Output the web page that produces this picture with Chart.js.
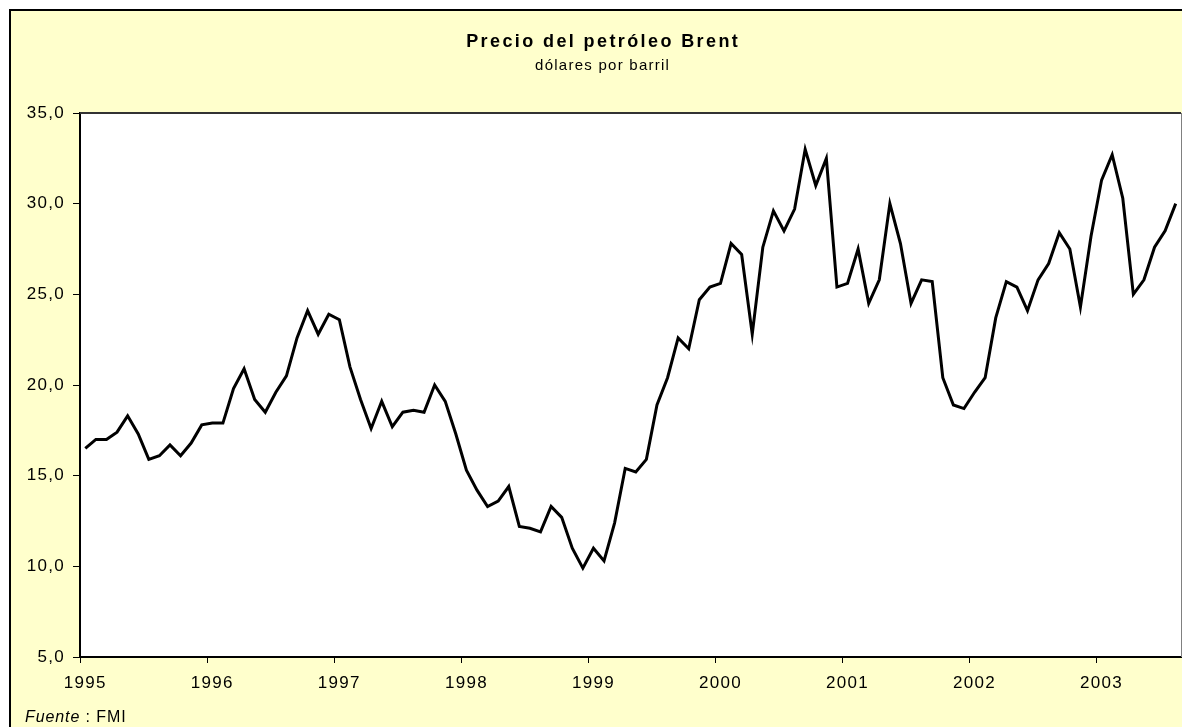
<!DOCTYPE html>
<html>
<head>
<meta charset="utf-8">
<script src="https://cdn.jsdelivr.net/npm/chart.js@4.4.0/dist/chart.umd.min.js"></script>
<style>
  html, body { margin: 0; padding: 0; background: #fff; }
  canvas { display: block; }
</style>
</head>
<body>
<canvas id="brent" width="1182" height="727"></canvas>
<script>
const START_YEAR = 1995;
const yTicks = [5, 10, 15, 20, 25, 30, 35];

// monthly Brent, USD per barrel, Jan 1995 - Aug 2003
const brent = [
  16.5, 17.0, 17.0, 17.4, 18.3, 17.3, 15.9, 16.1, 16.7, 16.1, 16.8, 17.8,
  17.9, 17.9, 19.8, 20.9, 19.2, 18.5, 19.6, 20.5, 22.6, 24.1, 22.8, 23.9,
  23.6, 21.0, 19.2, 17.6, 19.1, 17.7, 18.5, 18.6, 18.5, 20.0, 19.1, 17.3,
  15.3, 14.2, 13.3, 13.6, 14.4, 12.2, 12.1, 11.9, 13.3, 12.7, 11.0, 9.9,
  11.0, 10.3, 12.4, 15.4, 15.2, 15.9, 18.9, 20.4, 22.6, 22.0, 24.7, 25.4,
  25.6, 27.8, 27.2, 22.8, 27.6, 29.6, 28.5, 29.7, 33.0, 31.0, 32.5, 25.4,
  25.6, 27.5, 24.5, 25.8, 30.0, 27.8, 24.5, 25.8, 25.7, 20.4, 18.9, 18.7,
  19.6, 20.4, 23.7, 25.7, 25.4, 24.1, 25.8, 26.7, 28.4, 27.5, 24.3, 28.2,
  31.3, 32.7, 30.3, 25.0, 25.8, 27.6, 28.5, 30.0
];

const months = brent.map((_, i) =>
  `${START_YEAR + Math.floor(i / 12)}-${String(i % 12 + 1).padStart(2, "0")}`);

const FONT = '"Liberation Sans", Arial, sans-serif';

function drawSpaced(ctx, text, x, y, font, spacing, align) {
  ctx.font = font;
  ctx.letterSpacing = spacing + "px";
  const w = ctx.measureText(text).width - spacing;
  const left = align === "center" ? x - w / 2 : x;
  ctx.textAlign = "left";
  ctx.fillText(text, left, y);
  return left + w + spacing;
}

const frame = {
  id: "frame",
  beforeDraw(chart) {
    const { ctx, chartArea: a, width, height } = chart;
    ctx.save();
    ctx.fillStyle = "#fff";
    ctx.fillRect(0, 0, width, height);
    ctx.fillStyle = "#ffffcc";
    ctx.fillRect(9, 9, width - 9, height - 9);
    ctx.strokeStyle = "#000";
    ctx.lineWidth = 2;
    ctx.beginPath();
    ctx.moveTo(10, height);
    ctx.lineTo(10, 10);
    ctx.lineTo(width, 10);
    ctx.stroke();
    ctx.fillStyle = "#fff";
    ctx.fillRect(a.left, a.top, a.right - a.left, a.bottom - a.top);
    ctx.restore();
    ctx.letterSpacing = "1.3px";
  },
  afterDraw(chart) {
    const { ctx, chartArea: a } = chart;
    ctx.save();
    // plot frame, top and right
    ctx.strokeStyle = "#333";
    ctx.lineWidth = 2;
    ctx.beginPath();
    ctx.moveTo(a.left, a.top);
    ctx.lineTo(a.right, a.top);
    ctx.stroke();
    ctx.strokeStyle = "#808080";
    ctx.lineWidth = 1;
    ctx.beginPath();
    ctx.moveTo(a.right + 0.5, a.top);
    ctx.lineTo(a.right + 0.5, a.bottom);
    ctx.stroke();

    ctx.fillStyle = "#000";
    ctx.textBaseline = "alphabetic";
    drawSpaced(ctx, "Precio del petróleo Brent", 602, 47, "bold 18px " + FONT, 2.4, "center");
    drawSpaced(ctx, "dólares por barril", 602, 70, "15px " + FONT, 1.25, "center");
    const x = drawSpaced(ctx, "Fuente", 25, 722, "italic 16px " + FONT, 0.9, "left");
    drawSpaced(ctx, " : FMI", x, 722, "16px " + FONT, 0.9, "left");
    ctx.restore();
  }
};

new Chart(document.getElementById("brent"), {
  type: "line",
  data: {
    labels: months,
    datasets: [{
      data: brent,
      borderColor: "#000",
      borderWidth: 3,
      borderJoinStyle: "miter",
      pointRadius: 0,
      tension: 0,
      fill: false,
    }],
  },
  options: {
    responsive: false,
    devicePixelRatio: 1,
    animation: false,
    layout: { padding: { left: 9, top: 113, right: 1, bottom: 30 } },
    plugins: { legend: { display: false }, tooltip: { enabled: false } },
    scales: {
      x: {
        type: "category",
        offset: true,
        afterFit(scale) {
          scale.height = 40;
          scale.paddingLeft = 0;
          scale.paddingRight = 0;
        },
        border: { color: "#000", width: 2 },
        grid: {
          offset: true,
          drawOnChartArea: false,
          drawTicks: true,
          tickLength: 6,
          lineWidth: 1,
          color: (c) => (c.index % 12 === 0 ? "#000" : "rgba(0,0,0,0)"),
        },
        ticks: {
          autoSkip: false,
          maxRotation: 0,
          minRotation: 0,
          padding: 10,
          color: "#000",
          font: { family: FONT, size: 17 },
          callback(value, index) {
            const m = months[index];
            return m.endsWith("-01") ? m.slice(0, 4) : "";
          },
        },
      },
      y: {
        min: yTicks[0],
        max: yTicks[yTicks.length - 1],
        afterFit(scale) { scale.width = 71; },
        afterBuildTicks(scale) { scale.ticks = yTicks.map((v) => ({ value: v })); },
        border: { color: "#000", width: 2 },
        grid: {
          drawOnChartArea: false,
          drawTicks: true,
          tickLength: 7,
          lineWidth: 1,
          color: "#000",
        },
        ticks: {
          padding: 8,
          color: "#000",
          font: { family: FONT, size: 17 },
          callback: (v) => v.toFixed(1).replace(".", ","),
        },
      },
    },
  },
  plugins: [frame],
});
</script>
</body>
</html>
